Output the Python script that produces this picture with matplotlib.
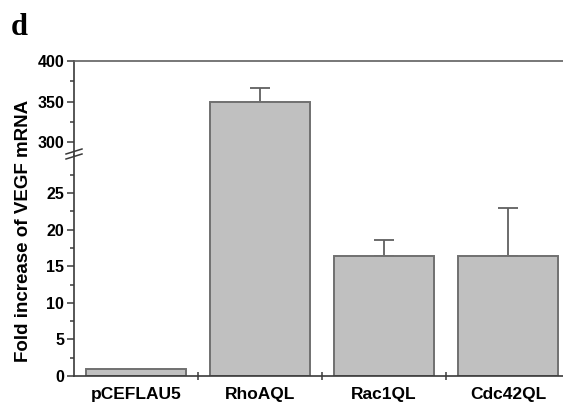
import numpy as np
import matplotlib
matplotlib.use("Agg")
import matplotlib.pyplot as plt
from matplotlib.lines import Line2D

categories = ["pCEFLAU5", "RhoAQL", "Rac1QL", "Cdc42QL"]
fold_increase = [1.0, 349.0, 16.4, 16.4]
err_upper = [0.0, 18.0, 2.2, 6.5]

upper_ticks = [300, 350, 400]
upper_minor = [325, 375]
lower_ticks = [0, 5, 10, 15, 20, 25]
lower_minor = [2.5, 7.5, 12.5, 17.5, 22.5, 27.5]

plt.rcParams["font.family"] = ["Liberation Sans", "DejaVu Sans"]
plt.rcParams["font.weight"] = "bold"

BAR_FILL = "#c0c0c0"
BAR_EDGE = "#707070"
AXIS_COL = "#3a3a3a"

fig = plt.figure(figsize=(5.63, 4.04), dpi=100)
W, H = 563.0, 404.0

ax_left = 74 / W
ax_width = 1.0 - ax_left
y_break = 155
ax_lo = fig.add_axes([ax_left, (H - 376) / H, ax_width, (376 - y_break) / H])
ax_hi = fig.add_axes([ax_left, (H - y_break) / H, ax_width, (y_break - 61) / H])

x = np.arange(len(categories))
vals = np.array(fold_increase)
errs = np.array(err_upper)
has_err = errs > 0

for ax in (ax_lo, ax_hi):
    ax.bar(x, vals, width=0.8, color=BAR_FILL, edgecolor=BAR_EDGE, linewidth=1.4, zorder=2)
    ax.errorbar(x[has_err], vals[has_err],
                yerr=[np.zeros(has_err.sum()), errs[has_err]],
                fmt="none", ecolor="#606060", elinewidth=1.3, capsize=7, capthick=1.3, zorder=1)
    ax.set_xlim(-0.5, (W - 74) / 124.0 - 0.5)
    ax.spines["right"].set_visible(False)
    for s in ax.spines.values():
        s.set_color(AXIS_COL)
        s.set_linewidth(1.2)
    ax.tick_params(axis="y", which="major", direction="out", length=5, width=1.1,
                   color=AXIS_COL, labelsize=11.5, pad=2)
    ax.tick_params(axis="y", which="minor", direction="out", length=3, width=1.1, color=AXIS_COL)

ax_hi.set_ylim(284, 400)
ax_hi.set_yticks(upper_ticks)
ax_hi.set_yticks(upper_minor, minor=True)
ax_hi.spines["bottom"].set_visible(False)
ax_hi.spines["top"].set_color("#606060")
ax_hi.tick_params(axis="x", which="both", bottom=False, labelbottom=False)

ax_lo.set_ylim(0, 30.2)
ax_lo.set_yticks(lower_ticks)
ax_lo.set_yticks(lower_minor, minor=True)
ax_lo.spines["top"].set_visible(False)
ax_lo.set_xticks(x)
ax_lo.set_xticklabels(categories, fontsize=12.5, fontweight="bold")
ax_lo.set_xticks(x[:-1] + 0.5, minor=True)
ax_lo.tick_params(axis="x", which="major", length=0, pad=8)
ax_lo.tick_params(axis="x", which="minor", direction="inout", length=6, width=1.1, color=AXIS_COL)

# break marks on the y axis: two short lines rising to the right
for yb in (151.5, 156.5):
    fig.add_artist(Line2D([66 / W, 82 / W], [(H - yb - 2.5) / H, (H - yb + 2.5) / H],
                          color=AXIS_COL, linewidth=1.1))

fig.text(24 / W, (H - 231) / H, "Fold increase of VEGF mRNA", rotation=90,
         ha="center", va="center", fontsize=13.5, fontweight="bold")
fig.text(11 / W, (H - 35) / H, "d", fontsize=22, fontweight="bold",
         family=["Liberation Serif", "DejaVu Serif"], ha="left", va="baseline")

fig.savefig("out.png", dpi=100)
